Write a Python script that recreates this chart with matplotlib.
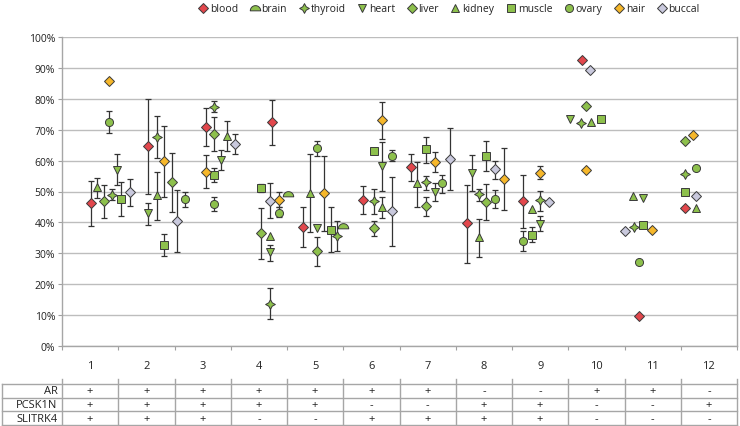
import numpy as np
import matplotlib
matplotlib.use("Agg")
import matplotlib.pyplot as plt
from matplotlib.path import Path
from matplotlib.lines import Line2D
from matplotlib.ticker import PercentFormatter, FixedLocator

plt.rcParams['font.family'] = ['Open Sans', 'DejaVu Sans']

N = np.nan
groups = list(range(1, 13))
series = ["blood", "brain", "thyroid", "heart", "liver", "kidney", "muscle", "ovary", "hair", "buccal"]

# x position of each point (category units), value (%), error-bar low/high (%)
blood_x  = [1.01, 2.03, 3.06, 4.23, 4.78, 5.85, 6.70, 7.70, 8.70, 9.74, 10.75, 11.58]
blood_v  = [46.4, 64.7, 70.8, 72.5, 38.4, 47.2, 57.8, 39.7, 46.9, 92.7, 9.8, 44.7]
blood_lo = [38.9, 49.3, 64.6, 65.2, 31.9, 42.6, 53.4, 26.9, 38.1, N, N, N]
blood_hi = [53.5, 79.9, 76.9, 79.6, 44.9, 51.9, 62.1, 52.2, 55.4, N, N, N]

brain_x  = [N, N, N, 4.51, 5.50, N, N, N, N, N, N, N]
brain_v  = [N, N, N, 49.3, 38.9, N, N, N, N, N, N, N]
brain_lo = [N] * 12
brain_hi = [N] * 12

thyroid_x  = [1.39, 2.18, 3.20, 4.20, 5.39, 6.04, 6.97, 7.91, 9.00, 9.72, 10.66, 11.58]
thyroid_v  = [49.0, 67.7, 77.4, 13.6, 35.7, 46.8, 53.0, 49.2, 47.2, 72.1, 38.4, 55.6]
thyroid_lo = [47.2, 60.9, 75.7, 8.6, 30.7, 42.7, 50.5, 47.0, 43.8, N, N, N]
thyroid_hi = [50.8, 74.4, 79.3, 18.9, 40.6, 50.8, 55.1, 50.8, 50.3, N, N, N]

heart_x  = [1.48, 2.03, 3.33, 4.20, 5.03, 6.18, 7.13, 7.78, 9.00, 9.53, 10.83, N]
heart_v  = [57.1, 42.9, 60.3, 30.5, 38.1, 58.1, 49.9, 56.0, 39.5, 73.4, 47.9, N]
heart_lo = [52.1, 39.2, 56.9, 27.6, N, 50.1, 46.8, 50.1, 37.1, N, N, N]
heart_hi = [62.2, 46.3, 63.5, 32.7, N, 65.9, 52.9, 61.7, 42.2, N, N, N]

liver_x  = [1.25, 2.46, 3.20, 4.04, 5.03, 6.04, 6.97, 8.04, N, 9.81, N, 11.58]
liver_v  = [46.9, 53.0, 68.7, 36.5, 30.7, 38.1, 45.2, 46.7, N, 77.6, N, 66.2]
liver_lo = [41.4, 43.5, 63.1, 28.2, 26.0, 35.5, 42.2, 40.9, N, N, N, N]
liver_hi = [52.2, 62.6, 74.2, 44.6, 35.2, 40.3, 48.1, 52.3, N, N, N, N]

kidney_x  = [1.13, 2.18, 3.44, 4.20, 4.91, 6.18, 6.81, 7.91, 8.86, 9.91, 10.65, 11.77]
kidney_v  = [51.4, 48.9, 68.1, 35.5, 49.6, 45.0, 52.8, 35.2, 44.3, 72.5, 48.7, 44.7]
kidney_lo = [47.9, 40.9, 63.0, N, 36.8, 41.3, 45.1, 28.8, N, N, N, N]
kidney_hi = [54.5, 56.4, 72.7, N, 62.0, 48.1, 59.4, 41.1, N, N, N, N]

muscle_x  = [1.54, 2.32, 3.20, 4.04, 5.29, 6.04, 6.97, 8.04, 8.86, 10.09, 10.82, 11.58]
muscle_v  = [47.6, 32.7, 55.4, 51.0, 37.6, 63.2, 63.8, 61.6, 36.0, 73.6, 39.0, 49.9]
muscle_lo = [42.0, 29.1, 53.0, 49.7, 30.3, N, 59.1, 56.7, 33.5, N, N, N]
muscle_hi = [53.2, 36.1, 57.7, 52.4, 45.1, N, 67.7, 66.4, 38.4, N, N, N]

ovary_x  = [1.34, 2.69, 3.20, 4.36, 5.03, 6.37, 7.26, 8.20, 8.70, N, 10.75, 11.77]
ovary_v  = [72.5, 47.5, 46.0, 42.9, 64.0, 61.6, 52.6, 47.7, 34.1, N, 27.3, 57.7]
ovary_lo = [68.9, 44.9, 43.8, 41.6, 61.5, 59.8, 49.5, 44.7, 30.6, N, N, N]
ovary_hi = [76.1, 49.9, 48.1, 44.9, 66.4, 63.3, 55.4, 50.4, 37.3, N, N, N]

hair_x  = [1.34, 2.32, 3.06, 4.36, 5.16, 6.18, 7.13, 8.35, 9.00, 9.81, 10.98, 11.72]
hair_v  = [85.7, 59.8, 56.4, 47.2, 49.4, 73.0, 59.5, 53.9, 56.1, 56.8, 37.5, 68.4]
hair_lo = [N, 48.3, 51.1, 44.9, 37.3, 67.0, 56.2, 44.0, 54.2, N, N, N]
hair_hi = [N, 71.3, 61.7, 49.7, 61.6, 79.0, 62.7, 64.2, 58.1, N, N, N]

buccal_x  = [1.71, 2.54, 3.57, 4.20, N, 6.37, 7.40, 8.20, 9.16, 9.88, 10.51, 11.77]
buccal_v  = [49.8, 40.5, 65.4, 47.0, N, 43.6, 60.6, 57.2, 46.7, 89.4, 37.2, 48.5]
buccal_lo = [45.3, 30.4, 62.0, 41.3, N, 32.4, 50.5, 54.0, N, N, N, N]
buccal_hi = [54.1, 50.5, 68.6, 52.8, N, 54.8, 70.6, 60.0, N, N, N, N]

table_rows = ["AR", "PCSK1N", "SLITRK4"]
AR      = ["+", "+", "+", "+", "+", "+", "+", "-", "-", "+", "+", "-"]
PCSK1N  = ["+", "+", "+", "+", "+", "-", "-", "+", "+", "-", "-", "+"]
SLITRK4 = ["+", "+", "+", "-", "-", "+", "+", "+", "+", "-", "-", "-"]

# ---- styles ----
GREEN = "#8DC04C"
RED = "#E2474C"
HAIR = "#F6B72A"
BUCCAL = "#C9C9DD"
EDGE = "#3A3A3A"

theta = np.linspace(0, np.pi, 25)
dome = Path(np.column_stack([np.r_[np.cos(theta), 1.0], np.r_[np.sin(theta) - 0.45, -0.45]]), closed=True)
ang = np.deg2rad(np.arange(90, 450, 45))
rad = np.array([1, 0.5] * 4)
star_v = np.column_stack([rad * np.cos(ang), rad * np.sin(ang)])
star = Path(np.vstack([star_v, star_v[:1]]), closed=True)

style = {
    "blood": ("D", RED, 5.0),
    "brain": (dome, GREEN, 7.5),
    "thyroid": (star, GREEN, 7.0),
    "heart": ("v", GREEN, 6.0),
    "liver": ("D", GREEN, 5.0),
    "kidney": ("^", GREEN, 6.0),
    "muscle": ("s", GREEN, 5.2),
    "ovary": ("o", GREEN, 5.8),
    "hair": ("D", HAIR, 5.0),
    "buccal": ("D", BUCCAL, 5.0),
}

data = {s: (globals()[s + "_x"], globals()[s + "_v"], globals()[s + "_lo"], globals()[s + "_hi"]) for s in series}

fig = plt.figure(figsize=(7.4, 4.27), dpi=100)
W, H = 740, 427
L, R, T, B = 62, 737, 38, 347
ax = fig.add_axes([L / W, 1 - B / H, (R - L) / W, (B - T) / H])

for s in series:
    x, v, lo, hi = (np.array(a, dtype=float) for a in data[s])
    m = ~np.isnan(lo)
    if m.any():
        ax.errorbar(x[m], v[m] / 100, yerr=[(v[m] - lo[m]) / 100, (hi[m] - v[m]) / 100],
                    fmt="none", ecolor="#333333", elinewidth=0.9, capsize=2.2, capthick=0.9, zorder=3)
for s in series:
    x, v, lo, hi = (np.array(a, dtype=float) for a in data[s])
    mk, col, ms = style[s]
    ax.plot(x, v / 100, linestyle="none", marker=mk, markersize=ms, markerfacecolor=col,
            markeredgecolor=EDGE, markeredgewidth=0.7, zorder=4)

ax.set_xlim(0.5, 12.5)
ax.set_ylim(0, 1)
ax.yaxis.set_major_locator(FixedLocator(np.arange(0, 1.01, 0.1)))
ax.yaxis.set_major_formatter(PercentFormatter(1.0, decimals=0))
ax.grid(axis="y", color="#BDBDBD", linewidth=1.0, zorder=0)
ax.set_axisbelow(True)
ax.xaxis.set_major_locator(FixedLocator(np.arange(0.5, 12.6, 1)))
ax.xaxis.set_major_formatter(plt.NullFormatter())
ax.set_xticks(groups, [str(g) for g in groups], minor=True)
ax.tick_params(axis="x", which="major", length=3, color="#A0A0A0", direction="out")
ax.tick_params(axis="x", which="minor", length=0, pad=10, labelsize=8, labelcolor="#222222")
ax.tick_params(axis="y", length=3, color="#A0A0A0", labelsize=7.5, labelcolor="#222222", pad=2)
for sp in ["left", "bottom", "right"]:
    ax.spines[sp].set_color("#A6A6A6")
    ax.spines[sp].set_linewidth(1.0)
ax.spines["top"].set_visible(False)

# legend
handles = []
for s in series:
    mk, col, ms = style[s]
    handles.append(Line2D([], [], linestyle="none", marker=mk, markersize=ms, markerfacecolor=col,
                          markeredgecolor=EDGE, markeredgewidth=0.7, label=s))
fig.legend(handles=handles, loc="upper center", bbox_to_anchor=(448 / W, 1.012), ncol=10,
           frameon=False, fontsize=7.5, handletextpad=0.0, columnspacing=0.95, handlelength=1.3,
           labelcolor="#222222")

# table
TL, TT, TB = 2, 385, 426
tax = fig.add_axes([TL / W, 1 - TB / H, (R - TL) / W, (TB - TT) / H])
x0 = 0.5 - (L - TL) / 56.25
tax.set_xlim(x0, 12.5)
tax.set_ylim(3, 0)
tax.axis("off")
lc = "#A6A6A6"
for yy in range(4):
    tax.plot([x0, 12.5], [yy, yy], color=lc, lw=1.0, clip_on=False)
tax.plot([x0, x0], [0, 3], color=lc, lw=1.0, clip_on=False)
for xb in np.arange(0.5, 12.6, 1):
    tax.plot([xb, xb], [-0.38, 3], color=lc, lw=1.0, clip_on=False)
for r, (name, vals) in enumerate(zip(table_rows, [AR, PCSK1N, SLITRK4])):
    tax.text(0.42, r + 0.5, name, ha="right", va="center", fontsize=8, color="#222222")
    for g, sym in zip(groups, vals):
        tax.text(g, r + 0.5, sym, ha="center", va="center", fontsize=8, color="#222222")

fig.savefig("out.png", dpi=100)
